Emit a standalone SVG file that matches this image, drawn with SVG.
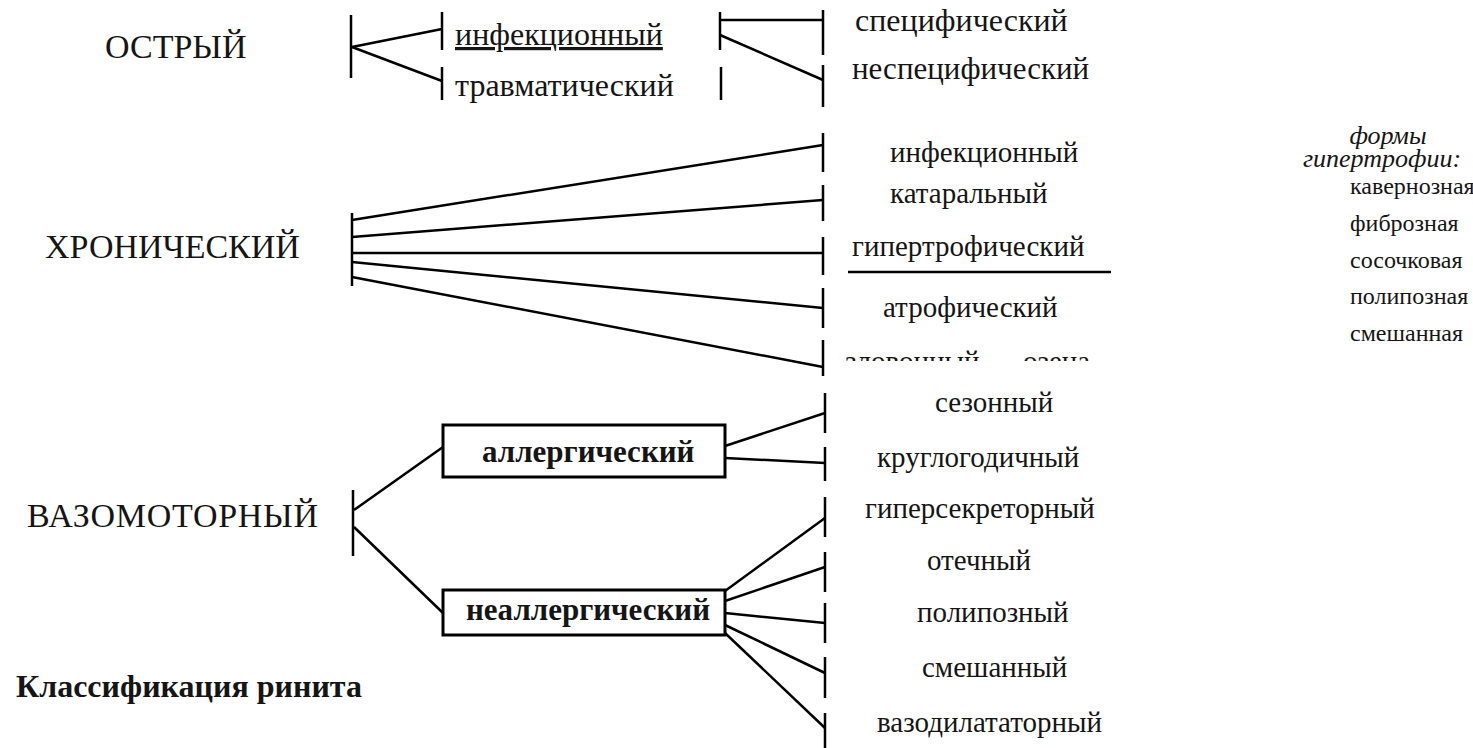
<svg xmlns="http://www.w3.org/2000/svg" width="1473" height="748" viewBox="0 0 1473 748">
<style>
text{font-family:"Liberation Serif","Times New Roman",serif;fill:#151515}
.h{font-size:34px}
.l{font-size:32px}
.m{font-size:29px}
.b{font-size:31px;font-weight:bold}
.t{font-size:32px;font-weight:bold}
.i{font-size:26px;font-style:italic}
.r{font-size:24px}
.c line{stroke:#000;stroke-width:2.5;fill:none}
.box{fill:#fff;stroke:#000;stroke-width:3}
</style>
<defs>
<clipPath id="cut"><rect x="830" y="330" width="300" height="31"/></clipPath>
</defs>
<g class="c" id="connectors">
<line x1="351" y1="15" x2="351" y2="78"/>
<line x1="352" y1="47" x2="442" y2="29"/>
<line x1="352" y1="47" x2="442" y2="81"/>
<line x1="442" y1="12" x2="442" y2="50"/>
<line x1="442" y1="67" x2="442" y2="100"/>
<line x1="720" y1="12" x2="720" y2="50"/>
<line x1="721" y1="67" x2="721" y2="100"/>
<line x1="720" y1="20" x2="823" y2="20"/>
<line x1="720" y1="35" x2="823" y2="80"/>
<line x1="823" y1="10" x2="823" y2="55"/>
<line x1="823" y1="65" x2="823" y2="107"/>
<line x1="352" y1="213" x2="352" y2="286"/>
<line x1="352" y1="220" x2="823" y2="145"/>
<line x1="352" y1="237" x2="823" y2="200"/>
<line x1="352" y1="253" x2="823" y2="253"/>
<line x1="352" y1="262" x2="823" y2="308"/>
<line x1="352" y1="277" x2="823" y2="367"/>
<line x1="823" y1="133" x2="823" y2="172"/>
<line x1="823" y1="185" x2="823" y2="221"/>
<line x1="823" y1="237" x2="823" y2="275"/>
<line x1="823" y1="288" x2="823" y2="328"/>
<line x1="823" y1="340" x2="823" y2="376"/>
<line x1="848" y1="272" x2="1111" y2="272"/>
<line x1="353" y1="490" x2="353" y2="556"/>
<line x1="354" y1="510" x2="443" y2="447"/>
<line x1="354" y1="527" x2="443" y2="613"/>
<line x1="725" y1="446" x2="825" y2="413"/>
<line x1="725" y1="458" x2="825" y2="463"/>
<line x1="725" y1="591" x2="825" y2="518"/>
<line x1="725" y1="601" x2="825" y2="567"/>
<line x1="725" y1="613" x2="825" y2="623"/>
<line x1="725" y1="625" x2="825" y2="673"/>
<line x1="725" y1="633" x2="825" y2="728"/>
<line x1="825" y1="393" x2="825" y2="433"/>
<line x1="825" y1="447" x2="825" y2="481"/>
<line x1="825" y1="497" x2="825" y2="537"/>
<line x1="825" y1="552" x2="825" y2="592"/>
<line x1="825" y1="603" x2="825" y2="643"/>
<line x1="825" y1="657" x2="825" y2="698"/>
<line x1="825" y1="713" x2="825" y2="748"/>
</g>
<g id="acute"><text class="h" x="105" y="58">ОСТРЫЙ</text></g>
<g id="chronic"><text class="h" x="45" y="258">ХРОНИЧЕСКИЙ</text></g>
<g id="vasomotor"><text class="h" x="27" y="527" textLength="291">ВАЗОМОТОРНЫЙ</text></g>
<g id="title"><text class="t" x="16" y="697">Классификация ринита</text></g>
<g id="infectious"><text class="l" x="455" y="45" text-decoration="underline">инфекционный</text></g>
<g id="traumatic"><text class="l" x="455" y="96">травматический</text></g>
<g id="specific"><text class="l" x="855" y="31">специфический</text></g>
<g id="nonspecific"><text class="l" x="852" y="79" style="font-size:31px">неспецифический</text></g>
<g id="ch-infectious"><text class="m" x="890" y="162">инфекционный</text></g>
<g id="catarrhal"><text class="m" x="890" y="203">катаральный</text></g>
<g id="hypertrophic"><text class="m" x="852" y="256">гипертрофический</text></g>
<g id="atrophic"><text class="m" x="883" y="317">атрофический</text></g>
<g id="ozena"><text class="m" x="845" y="371" clip-path="url(#cut)">зловонный — озена</text></g>
<g id="allergic"><rect class="box" x="443" y="425" width="282" height="52"/><text class="b" x="482" y="462">аллергический</text></g>
<g id="nonallergic"><rect class="box" x="443" y="590" width="282" height="45"/><text class="b" x="466" y="620">неаллергический</text></g>
<g id="seasonal"><text class="m" x="935" y="412">сезонный</text></g>
<g id="perennial"><text class="m" x="877" y="467">круглогодичный</text></g>
<g id="hypersecretory"><text class="m" x="865" y="518">гиперсекреторный</text></g>
<g id="edematous"><text class="m" x="927" y="570">отечный</text></g>
<g id="polypous"><text class="m" x="917" y="622">полипозный</text></g>
<g id="mixed"><text class="m" x="922" y="677">смешанный</text></g>
<g id="vasodilatory"><text class="m" x="877" y="732">вазодилататорный</text></g>
<g id="forms">
<text class="i" x="1388" y="144" text-anchor="middle">формы</text>
<text class="i" x="1382" y="167" text-anchor="middle">гипертрофии:</text>
<text class="r" x="1350" y="194">кавернозная</text>
<text class="r" x="1350" y="231">фиброзная</text>
<text class="r" x="1350" y="268">сосочковая</text>
<text class="r" x="1350" y="304">полипозная</text>
<text class="r" x="1350" y="341">смешанная</text>
</g>
</svg>
